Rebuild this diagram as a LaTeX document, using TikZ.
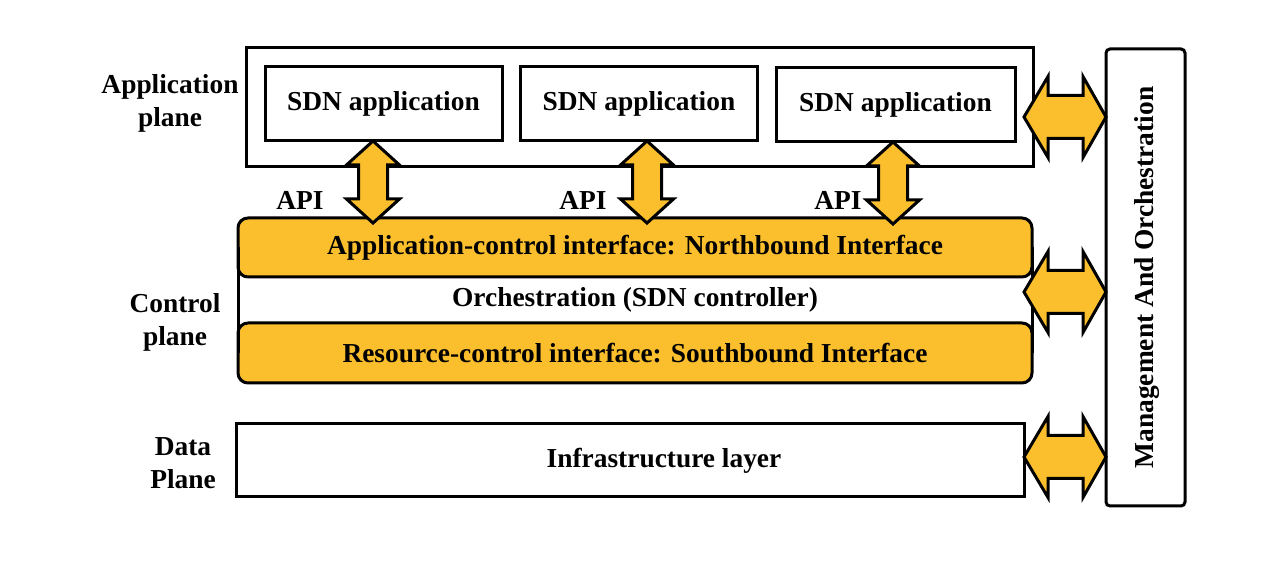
\documentclass[tikz,border=0pt]{standalone}
\usepackage{fontspec}
\setmainfont{Liberation Serif}
\definecolor{sdngold}{RGB}{251,191,45}
\tikzset{
  box/.style={draw, line width=1.5pt, fill=white, inner sep=0pt, outer sep=0pt},
  goldbox/.style={box, fill=sdngold, rounded corners=5pt},
  fatarrow/.style={draw, line width=1.5pt, fill=sdngold, line join=miter},
  pics/vapi/.style={code={
    \draw[fatarrow] (0,0) -- (26.5,24) -- (14.5,24) -- (14.5,58) -- (26.5,58) -- (0,82)
      -- (-26.5,58) -- (-14.5,58) -- (-14.5,24) -- (-26.5,24) -- cycle;}},
  pics/hmgmt/.style={code={
    \draw[fatarrow] (0,0) -- (-23,-40.5) -- (-23,-21.5) -- (-58,-21.5) -- (-58,-40.5) -- (-82,0)
      -- (-58,40.5) -- (-58,21.5) -- (-23,21.5) -- (-23,40.5) -- cycle;}}
}
\begin{document}
\begin{tikzpicture}[x=0.5pt, y=-0.5pt, font=\fontsize{13.7}{16.5}\selectfont\bfseries]
\useasboundingbox (0,0) rectangle (1266,561);
% application plane
\node[box, minimum width=393.5pt, minimum height=59.5pt] (appplane) at (640,107.5) {};
\node[box, minimum width=118.5pt, minimum height=37pt] (app1) at (383.5,104) {SDN application};
\node[box, minimum width=118.5pt, minimum height=37pt] (app2) at (639,104) {SDN application};
\node[box, minimum width=119.5pt, minimum height=37pt] (app3) at (895.5,105) {\raisebox{-2pt}{SDN application}};
\node[align=center] (applbl) at (170,103) {Application\\plane};
% control plane
\node[minimum width=397pt, minimum height=23pt] (orch) at (635,300) {Orchestration (SDN controller)};
\node[goldbox, minimum width=397pt, minimum height=29.5pt] (north) at (635,247.5) {Application-control interface: Northbound Interface};
\node[goldbox, minimum width=397pt, minimum height=30pt] (south) at (635,353) {Resource-control interface: Southbound Interface};
\draw[line width=1.5pt] (north.west) -- (south.west);
\draw[line width=1.5pt] (north.east) -- (south.east);
\node[align=center] (ctrllbl) at (175,322) {Control\\plane};
% data plane
\node[box, minimum width=394pt, minimum height=36.5pt] (infra) at (630,460.5) {\hspace{34pt}Infrastructure layer};
\node[align=center] (datalbl) at (183,463) {Data\\Plane};
% management
\node[box, rounded corners=2pt, minimum width=39.5pt, minimum height=228.5pt] (mgmt) at (1145.5,277.5) {};
\node[rotate=90] (mgmtlbl) at ([xshift=1pt]mgmt.center) {Management And Orchestration};
% API arrows
\pic at (app1.south -| 373,0) {vapi};
\pic at (app2.south -| 647,0) {vapi};
\pic at (app3.south -| 893,0) {vapi};
\node (api1) at (300,200) {API};
\node (api2) at (583,200) {API};
\node (api3) at (838,200) {API};
% arrows to management
\pic at (mgmt.west |- 0,117) {hmgmt};
\pic at (mgmt.west |- 0,292) {hmgmt};
\pic at (mgmt.west |- 0,457) {hmgmt};
\end{tikzpicture}
\end{document}
